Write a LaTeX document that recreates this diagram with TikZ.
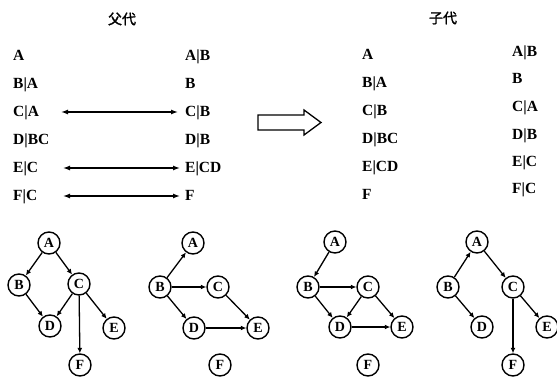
\documentclass[tikz,border=0pt]{standalone}
\usepackage{fontspec}
\setmainfont{Liberation Serif}
\newfontfamily\cjk[FakeBold=1.5]{Noto Sans CJK SC}
\usetikzlibrary{arrows.meta}
\begin{document}
\begin{tikzpicture}[x=1pt,y=-1pt,
  lbl/.style={anchor=base west,inner sep=0pt,font=\fontsize{15.5}{15.5}\selectfont\bfseries},
  vtx/.style={circle,draw,line width=1.4pt,minimum size=22pt,inner sep=0pt,font=\fontsize{14}{14}\selectfont\bfseries},
  edge/.style={line width=1.3pt,-{Latex[length=5.5pt,width=5pt]}},
  swapar/.style={line width=1.3pt,{Latex[length=7pt,width=5pt]}-{Latex[length=7pt,width=5pt]}},
  ttl/.style={font=\cjk\fontsize{14}{14}\selectfont,inner sep=0pt}]
\useasboundingbox (0,0) rectangle (557,382);
% titles
\node[ttl] (t1) at (122,19) {父代};
\node[ttl] (t2) at (443,18) {子代};
% parent left column
\node[lbl] (pa1) at (13,61) {A};
\node[lbl] (pb1) at (13,89) {B|A};
\node[lbl] (pc1) at (13,117) {C|A};
\node[lbl] (pd1) at (13,145) {D|BC};
\node[lbl] (pe1) at (13,173) {E|C};
\node[lbl] (pf1) at (13,201) {F|C};
% parent right column
\node[lbl] (pa2) at (185,61) {A|B};
\node[lbl] (pb2) at (185,89) {B};
\node[lbl] (pc2) at (185,117) {C|B};
\node[lbl] (pd2) at (185,145) {D|B};
\node[lbl] (pe2) at (185,173) {E|CD};
\node[lbl] (pf2) at (185,201) {F};
% swap arrows
\coordinate (s1l) at (61,112);
\coordinate (s1r) at (178,112);
\coordinate (s2l) at (63,168);
\coordinate (s2r) at (180,168);
\coordinate (s3l) at (63,196);
\coordinate (s3r) at (180,196);
\draw[swapar] (s1l) -- (s1r);
\draw[swapar] (s2l) -- (s2r);
\draw[swapar] (s3l) -- (s3r);
% hollow arrow
\draw[line width=1.3pt,line join=miter] (258,115) -- (304,115) -- (304,110) -- (321,122.5) -- (304,135) -- (304,130) -- (258,130) -- cycle;
% child left column
\node[lbl] (ca1) at (362,60) {A};
\node[lbl] (cb1) at (362,88) {B|A};
\node[lbl] (cc1) at (362,116) {C|B};
\node[lbl] (cd1) at (362,144) {D|BC};
\node[lbl] (ce1) at (362,172) {E|CD};
\node[lbl] (cf1) at (362,200) {F};
% child right column
\node[lbl] (ca2) at (512,57) {A|B};
\node[lbl] (cb2) at (512,84) {B};
\node[lbl] (cc2) at (512,112) {C|A};
\node[lbl] (cd2) at (512,140) {D|B};
\node[lbl] (ce2) at (512,167) {E|C};
\node[lbl] (cf2) at (512,194) {F|C};
% graph 1
\node[vtx] (g1a) at (49,243) {A};
\node[vtx] (g1b) at (19,285) {B};
\node[vtx] (g1c) at (79,284) {C};
\node[vtx] (g1d) at (50,326) {D};
\node[vtx] (g1e) at (114,328) {E};
\node[vtx] (g1f) at (80,365) {F};
\draw[edge] (g1a) -- (g1b);
\draw[edge] (g1a) -- (g1c);
\draw[edge] (g1b) -- (g1d);
\draw[edge] (g1c) -- (g1d);
\draw[edge] (g1c) -- (g1e);
\draw[edge] (g1c) -- (g1f);
% graph 2
\node[vtx] (g2a) at (193,243) {A};
\node[vtx] (g2b) at (160,287) {B};
\node[vtx] (g2c) at (218,287) {C};
\node[vtx] (g2d) at (194,328) {D};
\node[vtx] (g2e) at (258,328) {E};
\node[vtx] (g2f) at (220,365) {F};
\draw[edge] (g2b) -- (g2a);
\draw[edge] (g2b) -- (g2c);
\draw[edge] (g2b) -- (g2d);
\draw[edge] (g2c) -- (g2e);
\draw[edge] (g2d) -- (g2e);
% graph 3
\node[vtx] (g3a) at (335,242) {A};
\node[vtx] (g3b) at (308,287) {B};
\node[vtx] (g3c) at (368,287) {C};
\node[vtx] (g3d) at (340,327) {D};
\node[vtx] (g3e) at (402,327) {E};
\node[vtx] (g3f) at (368,365) {F};
\draw[edge] (g3a) -- (g3b);
\draw[edge] (g3b) -- (g3c);
\draw[edge] (g3b) -- (g3d);
\draw[edge] (g3c) -- (g3d);
\draw[edge] (g3c) -- (g3e);
\draw[edge] (g3d) -- (g3e);
% graph 4
\node[vtx] (g4a) at (477,242) {A};
\node[vtx] (g4b) at (448,287) {B};
\node[vtx] (g4c) at (513,287) {C};
\node[vtx] (g4d) at (482,327) {D};
\node[vtx] (g4e) at (547,327) {E};
\node[vtx] (g4f) at (513,365) {F};
\draw[edge] (g4b) -- (g4a);
\draw[edge] (g4a) -- (g4c);
\draw[edge] (g4b) -- (g4d);
\draw[edge] (g4c) -- (g4f);
\draw[edge] (g4c) -- (g4e);
\end{tikzpicture}
\end{document}
